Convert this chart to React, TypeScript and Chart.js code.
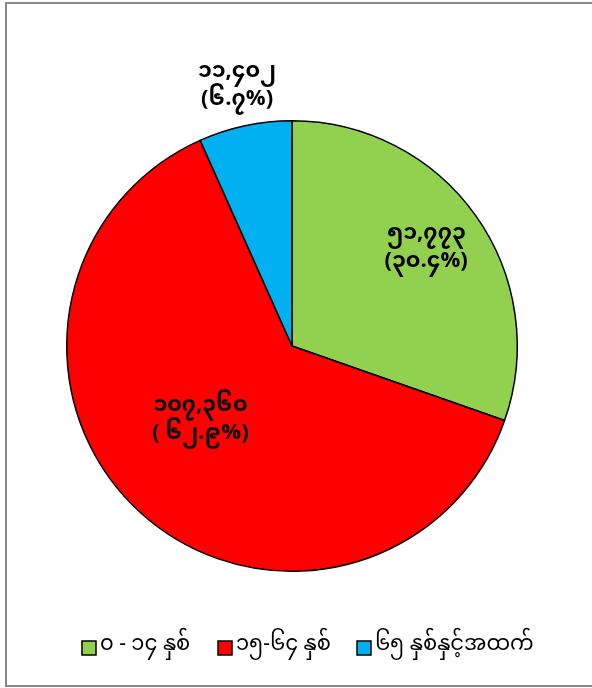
import React, { useEffect, useRef } from "react";
import { Chart, registerables } from "chart.js";

Chart.register(...registerables);

const categories = ["၀ - ၁၄ နှစ်", "၁၅-၆၄ နှစ်", "၆၅ နှစ်နှင့်အထက်"];
const values = [51773, 107360, 11402];
const valueLabels = ["၅၁,၇၇၃", "၁၀၇,၃၆၀", "၁၁,၄၀၂"];
const percentLabels = ["(၃၀.၄%)", "( ၆၂.၉%)", "(၆.၇%)"];
const colors = ["#92D050", "#FF0000", "#00B0F0"];

const FONT = '"Noto Sans Myanmar", Padauk, "Myanmar Text", "DejaVu Sans", sans-serif';

const framePlugin = {
  id: "frame",
  beforeDraw(chart: any) {
    const ctx = chart.ctx;
    ctx.save();
    ctx.fillStyle = "#fff";
    ctx.fillRect(0, 0, chart.width, chart.height);
    ctx.strokeStyle = "#888";
    ctx.lineWidth = 2;
    ctx.beginPath();
    ctx.moveTo(chart.width + 5, 3);
    ctx.lineTo(6, 3);
    ctx.lineTo(6, 686);
    ctx.lineTo(chart.width + 5, 686);
    ctx.stroke();
    ctx.restore();
  },
};

const labelPlugin = {
  id: "sliceLabels",
  afterDatasetsDraw(chart: any) {
    const ctx = chart.ctx;
    const meta = chart.getDatasetMeta(0);
    const radial = [0.73, 0.53, 1.17];
    const angOff = [0, 0.13, 0];
    ctx.save();
    ctx.fillStyle = "#000";
    ctx.textAlign = "center";
    ctx.textBaseline = "middle";
    ctx.font = `bold 22px ${FONT}`;
    meta.data.forEach((arc: any, i: number) => {
      const { x, y, startAngle, endAngle, outerRadius } = arc.getProps(
        ["x", "y", "startAngle", "endAngle", "outerRadius"],
        true
      );
      const mid = (startAngle + endAngle) / 2 + angOff[i];
      const r = outerRadius * radial[i];
      const cx = x + Math.cos(mid) * r;
      const cy = y + Math.sin(mid) * r;
      ctx.fillText(valueLabels[i], cx, cy - 14);
      ctx.fillText(percentLabels[i], cx, cy + 14);
    });
    ctx.restore();
  },
};

const legendPlugin = {
  id: "customLegend",
  afterDraw(chart: any) {
    const ctx = chart.ctx;
    const xs = [82, 218, 357];
    const y = 648;
    ctx.save();
    ctx.font = `21px ${FONT}`;
    ctx.textBaseline = "middle";
    ctx.textAlign = "left";
    categories.forEach((c, i) => {
      ctx.fillStyle = colors[i];
      ctx.fillRect(xs[i], y - 7, 14, 14);
      ctx.strokeStyle = "#000";
      ctx.lineWidth = 1.5;
      ctx.strokeRect(xs[i], y - 7, 14, 14);
      ctx.fillStyle = "#000";
      ctx.fillText(c, xs[i] + 18, y);
    });
    ctx.restore();
  },
};

export default function App() {
  const ref = useRef<HTMLCanvasElement>(null);
  useEffect(() => {
    if (!ref.current) return;
    const chart = new Chart(ref.current, {
      type: "pie",
      data: {
        labels: categories,
        datasets: [
          {
            data: values,
            backgroundColor: colors,
            borderColor: "#000",
            borderWidth: 1.5,
          },
        ],
      },
      options: {
        animation: false,
        responsive: false,
        maintainAspectRatio: false,
        layout: { padding: { left: 66, right: 74, top: 120, bottom: 116 } },
        plugins: {
          legend: { display: false },
          tooltip: { enabled: false },
        },
      },
      plugins: [framePlugin, labelPlugin, legendPlugin],
    });
    return () => chart.destroy();
  }, []);
  return (
    <div style={{ position: "fixed", left: 0, top: 0, width: 592, height: 688, background: "#fff", overflow: "hidden" }}>
      <canvas ref={ref} width={592} height={688} style={{ position: "absolute", left: 0, top: 0, display: "block" }} />
    </div>
  );
}
